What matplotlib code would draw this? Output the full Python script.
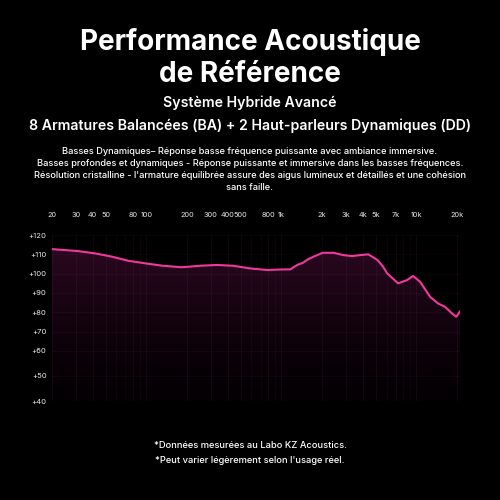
import numpy as np
import matplotlib
matplotlib.use("Agg")
import matplotlib.pyplot as plt
from matplotlib.ticker import FixedLocator, NullFormatter

# ---- data ----
freq_hz = [20, 31, 41.6, 55.6, 73, 99, 132, 183, 249, 333, 438, 587, 783, 1030,
           1160, 1310, 1440, 1570, 1730, 2020, 2430, 2870, 3330, 3830, 4400,
           5160, 5660, 6060, 7310, 8520, 9440, 10640, 12620, 14460, 16300,
           18360, 19700, 21000]
spl_db = [112.7, 111.7, 110.5, 108.8, 106.7, 105.3, 104.1, 103.3, 104.1, 104.5,
          104.1, 102.7, 101.9, 102.2, 102.2, 104.5, 105.6, 107.4, 108.8, 110.8,
          110.8, 109.6, 109.1, 109.6, 110.0, 107.0, 103.6, 100.2, 95.0, 96.7,
          98.8, 95.8, 88.0, 84.6, 82.8, 79.4, 77.7, 80.5]

x_ticks = [20, 30, 40, 50, 80, 100, 200, 300, 400, 500, 800, 1000, 2000, 3000,
           4000, 5000, 7000, 10000, 20000]
x_labels = ["20", "30", "40", "50", "80", "100", "200", "300", "400", "500",
            "800", "1k", "2k", "3k", "4k", "5k", "7k", "10k", "20k"]
y_ticks = [40, 50, 60, 70, 80, 90, 100, 110, 120]
y_labels = ["+40", "+50", "+60", "+70", "+80", "+90", "+100", "+110", "+120"]

title_lines = ["Performance Acoustique", "de Référence"]
sub_lines = ["Système Hybride Avancé",
             "8 Armatures Balancées (BA) + 2 Haut-parleurs Dynamiques (DD)"]
para_lines = ["Basses Dynamiques– Réponse basse fréquence puissante avec ambiance immersive.",
              "Basses profondes et dynamiques - Réponse puissante et immersive dans les basses fréquences.",
              "Résolution cristalline - l'armature équilibrée assure des aigus lumineux et détaillés et une cohésion",
              "sans faille."]
foot_lines = ["*Données mesurées au Labo KZ Acoustics.",
              "*Peut varier légèrement selon l'usage réel."]

FONT = "Inter"
LINE = "#ee3a9e"

fig = plt.figure(figsize=(5, 5), dpi=100, facecolor="black")
W = 500.0

def fit(texts, ref_idx, target_px, ys, **kw):
    objs = [fig.text(0.5, y, t, ha="center", va="center", color="white",
                     family=FONT, fontsize=10, **kw) for t, y in zip(texts, ys)]
    r = fig.canvas.get_renderer()
    w = objs[ref_idx].get_window_extent(r).width
    fs = 10 * target_px / w
    for o in objs:
        o.set_fontsize(fs)
    return objs

fit(title_lines, 0, 341, [1 - 42/W, 1 - 75/W], fontweight="bold")
fit(sub_lines, 1, 440, [1 - 103/W, 1 - 126/W], fontweight="semibold")
fit(para_lines, 1, 428, [1 - 151.7/W, 1 - 163.7/W, 1 - 175.7/W, 1 - 187.7/W], fontweight="medium")
fit(foot_lines, 0, 194, [1 - 445.7/W, 1 - 460.7/W], fontweight="medium")

# ---- chart ----
ax = fig.add_axes([52/W, 1 - 401/W, (460-52)/W, (401-235)/W])
ax.set_facecolor("black")

def fwd(v):
    v = np.asarray(v, dtype=float)
    return np.where(v < 60, (v - 60) * 2.5, (v - 60) * 1.933)

def inv(u):
    u = np.asarray(u, dtype=float)
    return np.where(u < 0, u / 2.5 + 60, u / 1.933 + 60)

ax.set_xscale("log")
ax.set_yscale("function", functions=(fwd, inv))
ax.set_xlim(20, 21000)
ax.set_ylim(40, 120)

# gradient fill under curve
poly = ax.fill_between(freq_hz, spl_db, 40, color="none", lw=0)
n = 256
t = np.linspace(1, 0, n).reshape(-1, 1)
top = np.array([0.19, 0.035, 0.14])
bot = np.array([0.01, 0.0, 0.008])
rgb = bot + (top - bot) * t[..., None] ** 1.4
img = np.repeat(rgb, 2, axis=1)
im = ax.imshow(img, extent=[0, 1, 0, 1], transform=ax.transAxes,
               aspect="auto", zorder=1, interpolation="bilinear")
im.set_clip_path(poly.get_paths()[0], transform=ax.transData)

ax.plot(freq_hz, spl_db, color=LINE, lw=1.5, zorder=4, solid_joinstyle="round")

# grid
ax.xaxis.set_major_locator(FixedLocator(x_ticks))
ax.xaxis.set_minor_locator(FixedLocator([60, 70, 90, 600, 700, 900, 6000, 8000, 9000]))
ax.xaxis.set_minor_formatter(NullFormatter())
ax.set_xticklabels(x_labels)
ax.yaxis.set_major_locator(FixedLocator(y_ticks))
ax.yaxis.set_minor_locator(FixedLocator([]))
ax.set_yticklabels(y_labels)
ax.grid(True, which="major", axis="x", color="#ff6ac0", alpha=0.06, lw=0.8, zorder=2)
ax.grid(True, which="major", axis="y", color="#ff6ac0", alpha=0.045, lw=0.8, zorder=2)
ax.grid(True, which="minor", axis="x", color="#ff6ac0", alpha=0.04, lw=0.8, zorder=2)
ax.set_axisbelow(False)

ax.xaxis.tick_top()
ax.tick_params(axis="x", which="both", length=0, pad=12, labelsize=5.3, labelcolor="#e6e6e6")
ax.tick_params(axis="y", which="both", length=0, pad=4, labelsize=5.5, labelcolor="#e6e6e6")
for lab in ax.get_xticklabels() + ax.get_yticklabels():
    lab.set_family(FONT)
for s in ax.spines.values():
    s.set_visible(False)

fig.savefig("out.png", dpi=100, facecolor="black")
